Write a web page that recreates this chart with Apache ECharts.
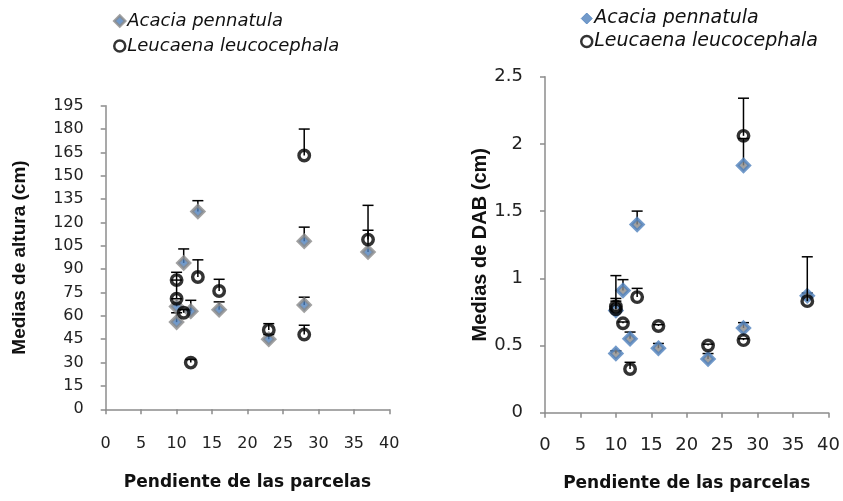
<!DOCTYPE html>
<html>
<head>
<meta charset="utf-8">
<script src="https://cdn.jsdelivr.net/npm/echarts@6/dist/echarts.min.js"></script>
<style>
  html, body { margin: 0; padding: 0; background: #fff; }
  #chart { width: 843px; height: 501px; }
</style>
</head>
<body>
<div id="chart"></div>
<script>
// Slope of each plot (x), shared by both panels
var pendiente = [10, 10, 11, 12, 13, 16, 23, 28, 28, 37];

// Panel 1: mean height (cm) and upper error
var alturaAcacia = [56, 66, 94, 63, 127, 64, 45, 108, 67, 101];
var alturaAcaciaErr = [6, 5, 9, 7, 7, 5, 3, 9, 5, 14];
var alturaLeucaena = [71, 83, 62, 30, 85, 76, 51, 163, 48, 109];
var alturaLeucaenaErr = [12, 5, 2, 2, 11, 7.5, 4, 17, 6, 22];

// Panel 2: mean DAB (cm) and upper error
var dabAcacia = [0.44, 0.76, 0.91, 0.55, 1.40, 0.48, 0.40, 1.84, 0.63, 0.87];
var dabAcaciaErr = [0.02, 0.09, 0.08, 0.05, 0.10, 0.035, 0.04, 0.2, 0.04, 0.02];
var dabLeucaena = [0.77, 0.79, 0.665, 0.325, 0.86, 0.645, 0.50, 2.06, 0.54, 0.83];
var dabLeucaenaErr = [0.06, 0.23, 0.01, 0.05, 0.065, 0.01, 0.01, 0.28, 0.01, 0.33];

var speciesNames = ['Acacia pennatula', 'Leucaena leucocephala'];
var xTitle = 'Pendiente de las parcelas';
var yTitleAltura = 'Medias de altura (cm)';
var yTitleDab = 'Medias de DAB (cm)';

var FONT = "'Liberation Sans', Arial, sans-serif";
var WIDE = "'DejaVu Sans', 'Liberation Sans', sans-serif";
var AXIS_GRAY = '#8c8c8c';
var BLUE = '#4f81bd';
var GRAY = '#8a8a8a';

function points(xs, ys) {
  return xs.map(function (x, i) { return [x, ys[i]]; });
}
function errPoints(xs, ys, errs) {
  return xs.map(function (x, i) { return [x, ys[i], ys[i] + errs[i]]; });
}

// Upper error bar: vertical line from the mean to mean + error, with a cap
function renderErr(params, api) {
  var base = api.coord([api.value(0), api.value(1)]);
  var top = api.coord([api.value(0), api.value(2)]);
  var half = 5.5;
  var style = { stroke: '#000', lineWidth: 1.5, fill: null };
  return {
    type: 'group',
    children: [
      { type: 'line', shape: { x1: base[0], y1: base[1], x2: top[0], y2: top[1] }, style: style },
      { type: 'line', shape: { x1: top[0] - half, y1: top[1], x2: top[0] + half, y2: top[1] }, style: style }
    ]
  };
}

function xAxis(gridIndex, margin, nameGap, fontSize) {
  return {
    gridIndex: gridIndex, type: 'value', min: 0, max: 40, interval: 5,
    name: xTitle, nameLocation: 'middle', nameGap: nameGap,
    nameTextStyle: { fontFamily: WIDE, fontWeight: 'bold', fontSize: 17, color: '#111', verticalAlign: 'top' },
    axisLine: { show: true, onZero: false, lineStyle: { color: AXIS_GRAY, width: 1.5 } },
    axisTick: { show: true, inside: false, length: 5, lineStyle: { color: AXIS_GRAY, width: 1.5 } },
    axisLabel: { margin: margin, fontFamily: WIDE, fontSize: fontSize, color: '#222' },
    splitLine: { show: false }
  };
}
function yAxis(gridIndex, max, interval, name, nameGap, nameSize, fontSize) {
  return {
    gridIndex: gridIndex, type: 'value', min: 0, max: max, interval: interval,
    name: name, nameLocation: 'middle', nameGap: nameGap, nameRotate: 90,
    nameTextStyle: { fontFamily: FONT, fontWeight: 'bold', fontSize: nameSize, color: '#111', verticalAlign: 'bottom' },
    axisLine: { show: true, onZero: false, lineStyle: { color: AXIS_GRAY, width: 1.5 } },
    axisTick: { show: true, inside: false, length: 5, lineStyle: { color: AXIS_GRAY, width: 1.5 } },
    axisLabel: { margin: 22, fontFamily: WIDE, fontSize: fontSize, color: '#222' },
    splitLine: { show: false }
  };
}

var acaciaLeft = { color: BLUE, borderColor: GRAY, borderWidth: 3.2 };
var acaciaRight = { color: GRAY, borderColor: BLUE, borderWidth: 3.2 };
var leucaenaStyle = { color: 'rgba(0,0,0,0)', borderColor: '#000', borderWidth: 3.4 };

function legend(left, top, fontSize, gap) {
  return {
    left: left, top: top, orient: 'vertical', itemGap: gap,
    itemWidth: 11, itemHeight: 11, selectedMode: false,
    textStyle: { fontFamily: WIDE, fontStyle: 'italic', fontSize: fontSize, color: '#111', padding: [0, 0, 0, -3] },
    data: []
  };
}
var legendLeft = legend(108, 7, 18, 7);
legendLeft.data = [
  { name: speciesNames[0], icon: 'diamond', itemStyle: { color: BLUE, borderColor: GRAY, borderWidth: 2.5 } },
  { name: speciesNames[1], icon: 'circle', itemStyle: { color: '#fff', borderColor: '#000', borderWidth: 2.5 } }
];
var legendRight = legend(575, 4, 19, 4);
legendRight.data = [
  { name: speciesNames[0], icon: 'diamond', itemStyle: { color: BLUE, borderColor: BLUE, borderWidth: 1 } },
  { name: speciesNames[1], icon: 'circle', itemStyle: { color: '#fff', borderColor: '#000', borderWidth: 2.5 } }
];

var option = {
  animation: false,
  backgroundColor: '#fff',
  legend: [legendLeft, legendRight],
  grid: [
    { left: 105.7, top: 105.7, width: 283.6, height: 303.6 },
    { left: 545, top: 76.7, width: 285.7, height: 336 }
  ],
  xAxis: [xAxis(0, 27, 65, 16), xAxis(1, 24, 62, 18)],
  yAxis: [
    yAxis(0, 195, 15, yTitleAltura, 76, 19, 16),
    yAxis(1, 2.5, 0.5, yTitleDab, 53, 20, 18)
  ],
  series: [
    { type: 'custom', xAxisIndex: 0, yAxisIndex: 0, renderItem: renderErr, z: 2,
      data: errPoints(pendiente, alturaAcacia, alturaAcaciaErr), silent: true },
    { type: 'scatter', name: speciesNames[0], xAxisIndex: 0, yAxisIndex: 0, z: 3,
      symbol: 'diamond', symbolSize: 12, itemStyle: acaciaLeft,
      data: points(pendiente, alturaAcacia) },
    { type: 'custom', xAxisIndex: 0, yAxisIndex: 0, renderItem: renderErr, z: 4,
      data: errPoints(pendiente, alturaLeucaena, alturaLeucaenaErr), silent: true },
    { type: 'scatter', name: speciesNames[1], xAxisIndex: 0, yAxisIndex: 0, z: 5,
      symbol: 'circle', symbolSize: 10.5, itemStyle: leucaenaStyle,
      data: points(pendiente, alturaLeucaena) },

    { type: 'custom', xAxisIndex: 1, yAxisIndex: 1, renderItem: renderErr, z: 2,
      data: errPoints(pendiente, dabAcacia, dabAcaciaErr), silent: true },
    { type: 'scatter', name: speciesNames[0], xAxisIndex: 1, yAxisIndex: 1, z: 3,
      symbol: 'diamond', symbolSize: 12, itemStyle: acaciaRight,
      data: points(pendiente, dabAcacia) },
    { type: 'custom', xAxisIndex: 1, yAxisIndex: 1, renderItem: renderErr, z: 4,
      data: errPoints(pendiente, dabLeucaena, dabLeucaenaErr), silent: true },
    { type: 'scatter', name: speciesNames[1], xAxisIndex: 1, yAxisIndex: 1, z: 5,
      symbol: 'circle', symbolSize: 10.5, itemStyle: leucaenaStyle,
      data: points(pendiente, dabLeucaena) }
  ]
};

var chart = echarts.init(document.getElementById('chart'), null, { renderer: 'canvas' });
chart.setOption(option);
</script>
</body>
</html>
